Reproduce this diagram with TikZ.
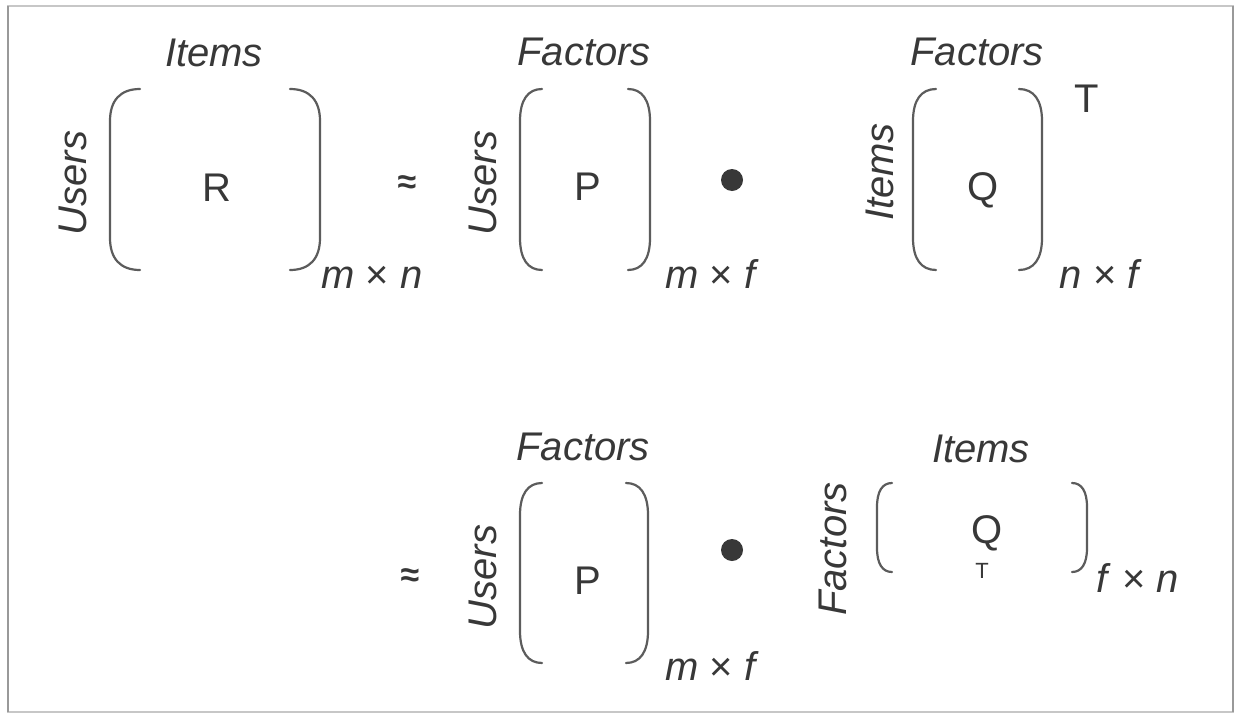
\documentclass[tikz,border=0pt]{standalone}
\usepackage{fontspec}
\setmainfont{Liberation Sans}
\usetikzlibrary{calc}
\definecolor{ink}{HTML}{383838}
\definecolor{rim}{HTML}{5C5C5C}

% a pair of rounded brackets round a box node: box, inset, curve height
\newcommand{\mbrackets}[3]{%
  \draw[brk] ($(#1.north west)+(#2,0)$)
    .. controls ($(#1.north west)+(0.35*#2,0)$) and ($(#1.north west)+(0,0.35*#3)$) .. ($(#1.north west)+(0,#3)$)
    -- ($(#1.south west)+(0,-#3)$)
    .. controls ($(#1.south west)+(0,-0.35*#3)$) and ($(#1.south west)+(0.35*#2,0)$) .. ($(#1.south west)+(#2,0)$);
  \draw[brk] ($(#1.north east)+(-#2,0)$)
    .. controls ($(#1.north east)+(-0.35*#2,0)$) and ($(#1.north east)+(0,0.35*#3)$) .. ($(#1.north east)+(0,#3)$)
    -- ($(#1.south east)+(0,-#3)$)
    .. controls ($(#1.south east)+(0,-0.35*#3)$) and ($(#1.south east)+(-0.35*#2,0)$) .. ($(#1.south east)+(-#2,0)$);
}

\begin{document}
\begin{tikzpicture}[x=1pt, y=-1pt,
    mbox/.style={inner sep=0pt, outer sep=0pt},
    brk/.style={draw=rim, line width=2.2pt, line cap=round},
    lbl/.style={text=ink, anchor=base, inner sep=0pt,
                font=\fontsize{40pt}{48pt}\selectfont\itshape},
    side/.style={lbl, anchor=center, rotate=90},
    dims/.style={text=ink, anchor=base, inner sep=0pt,
                 font=\fontsize{40pt}{48pt}\selectfont},
    mletter/.style={text=ink, anchor=base, inner sep=0pt,
                    font=\fontsize{40pt}{48pt}\selectfont},
    approx/.style={text=ink, inner sep=0pt,
                   font=\fontsize{34pt}{40pt}\selectfont\bfseries},
    dotc/.style={circle, fill=ink, inner sep=0pt, minimum size=22pt}
  ]
    \useasboundingbox (0,0) rectangle (1237,715);
    \fill[white] (0,0) rectangle (1237,715);

    % frame
    \draw[black!22, line width=1.5pt] (8,6) rectangle (1233,712);
    \draw[black!40, line width=2pt] (8,6) -- (8,712);
    \draw[black!40, line width=2pt] (1233,6) -- (1233,712);

    % first row: R ~ P . Q^T
    \node[mbox, minimum width=210pt, minimum height=181pt] (Rbox) at (215,179.5) {};
    \node[mletter] (R) at (217,201) {R};
    \node[lbl] (itemsR) at (214,66) {Items};
    \node[side] (usersR) at (73,183) {Users};
    \node[dims] (dimR) at (372,288) {\textit{m} × \textit{n}};
    \node[approx] (approxA) at (407,185) {≈};

    \node[mbox, minimum width=130pt, minimum height=181pt] (Pbox) at (585,179.5) {};
    \node[mletter] (P) at (588,200) {P};
    \node[lbl] (factorsP) at (584,65) {Factors};
    \node[side] (usersP) at (483,183) {Users};
    \node[dims] (dimP) at (712,288) {\textit{m} × \textit{f}};
    \node[dotc] (dotA) at (732,180) {};

    \node[mbox, minimum width=129pt, minimum height=181pt] (Qbox) at (977.5,179.5) {};
    \node[mletter] (Q) at (983,200) {Q};
    \node[mletter] (supT) at (1087,112) {T};
    \node[lbl] (factorsQ) at (977,65) {Factors};
    \node[side] (itemsQ) at (880,172) {Items};
    \node[dims] (dimQ) at (1101,288) {\textit{n} × \textit{f}};

    % second row: ~ P . (Q^T)
    \node[approx] (approxB) at (410,578) {≈};

    \node[mbox, minimum width=128pt, minimum height=180pt] (PPbox) at (584,573) {};
    \node[mletter] (PP) at (588,594) {P};
    \node[lbl] (factorsPP) at (583,460) {Factors};
    \node[side] (usersPP) at (483,577) {Users};
    \node[dims] (dimPP) at (712,680) {\textit{m} × \textit{f}};
    \node[dotc] (dotB) at (732,550) {};

    \node[mbox, minimum width=210pt, minimum height=89pt] (QTbox) at (982,527.5) {};
    \node[mletter] (QT) at (987,543) {Q};
    \node[mletter, font=\fontsize{22pt}{26pt}\selectfont] (subT) at (982,578) {T};
    \node[lbl] (itemsQT) at (981,462) {Items};
    \node[side] (factorsQT) at (833,549) {Factors};
    \node[dims] (dimQT) at (1138,592) {\textit{f} × \textit{n}};

    % brackets
    \mbrackets{Rbox}{30}{32}
    \mbrackets{Pbox}{22}{32}
    \mbrackets{Qbox}{23}{32}
    \mbrackets{PPbox}{22}{32}
    \mbrackets{QTbox}{15}{24}
  \end{tikzpicture}
\end{document}
